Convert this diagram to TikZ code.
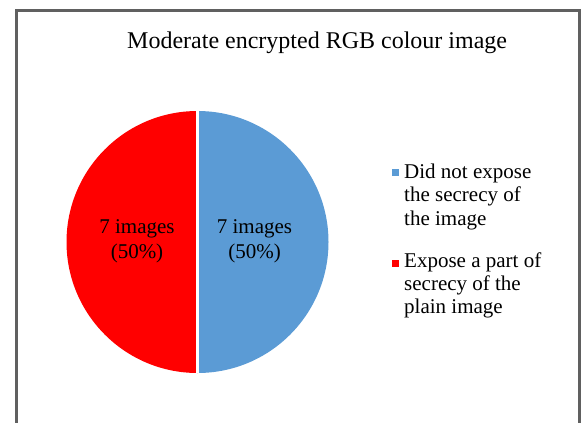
\documentclass[tikz,border=0pt]{standalone}
\usepackage{fontspec}
\setmainfont{Liberation Serif}
\definecolor{pieblue}{HTML}{5B9BD5}
\definecolor{piered}{HTML}{FF0000}
\definecolor{framegray}{HTML}{606060}
\begin{document}
\begin{tikzpicture}[x=1bp,y=1bp,
  titletext/.style={font=\fontsize{24bp}{28bp}\selectfont, inner sep=0pt, anchor=base west},
  legtext/.style={font=\fontsize{21bp}{24bp}\selectfont, inner sep=0pt, anchor=base west},
  pietext/.style={font=\fontsize{21bp}{25bp}\selectfont, inner sep=0pt, anchor=base},
  legsq/.style={minimum size=7bp, inner sep=0pt, draw=none}]
\useasboundingbox (0,0) rectangle (584,422);
% frame
\draw[framegray, line width=2.8bp] (16.5,-10) -- (16.5,411.5) -- (579.5,411.5) -- (579.5,-10);
% pie
\coordinate (c) at (197.5,180);
\fill[piered] (c) -- ++(0,131) arc[start angle=90, end angle=270, radius=131] -- cycle;
\fill[pieblue] (c) -- ++(0,131) arc[start angle=90, end angle=-90, radius=131] -- cycle;
\draw[white, line width=2.2bp] (197.5,311) -- (197.5,49);
% title
\node[titletext] (title) at (127,374) {Moderate encrypted RGB colour image};
% pie labels
\node[pietext] (r1) at (137,189) {7 images};
\node[pietext] (r2) at (137,164) {(50\%)};
\node[pietext] (b1) at (254.5,189) {7 images};
\node[pietext] (b2) at (254.5,164) {(50\%)};
% legend
\node[legsq, fill=pieblue] (sqb) at (395,250) {};
\node[legtext] (lb1) at (404,244) {Did not expose};
\node[legtext] (lb2) at (404,220.5) {the secrecy of};
\node[legtext] (lb3) at (404,197) {the image};
\node[legsq, fill=piered] (sqr) at (395,159) {};
\node[legtext] (lr1) at (404,155) {Expose a part of};
\node[legtext] (lr2) at (404,132) {secrecy of the};
\node[legtext] (lr3) at (404,109) {plain image};
\end{tikzpicture}
\end{document}
